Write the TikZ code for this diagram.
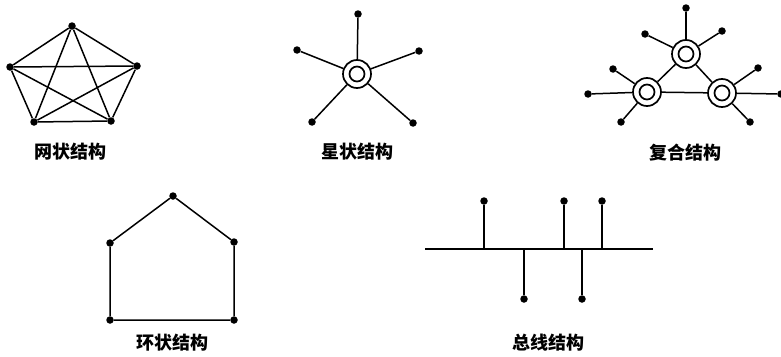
\documentclass[tikz,border=0pt]{standalone}
\usepackage{fontspec}
\newfontfamily\cjk{Noto Sans CJK SC}
\begin{document}
\begin{tikzpicture}[x=1pt,y=-1pt,
  dot/.style={circle,fill=black,inner sep=0pt,minimum size=7.5pt},
  hub/.style={circle,draw,line width=1.7pt,minimum size=28pt,inner sep=0pt,
    path picture={\draw[line width=1.7pt] (path picture bounding box.center) circle (7.5pt);}},
  lnk/.style={line width=1.5pt},
  lbl/.style={font=\cjk\bfseries\fontsize{18}{20}\selectfont}]
\useasboundingbox (0,0) rectangle (781,356);
% mesh
\node[dot] (m1) at (72,26) {};
\node[dot] (m2) at (10,67) {};
\node[dot] (m3) at (137,66) {};
\node[dot] (m4) at (34,122) {};
\node[dot] (m5) at (111,121) {};
\foreach \a/\b in {m1/m2,m1/m3,m1/m4,m1/m5,m2/m3,m2/m4,m2/m5,m3/m4,m3/m5,m4/m5}
  \draw[lnk] (\a) -- (\b);
\node[lbl] (lm) at (70,152) {网状结构};
% star
\node[hub] (s0) at (357,74) {};
\node[dot] (s1) at (358,14) {};
\node[dot] (s2) at (297,50) {};
\node[dot] (s3) at (419,51) {};
\node[dot] (s4) at (312,122) {};
\node[dot] (s5) at (413,123) {};
\foreach \b in {s1,s2,s3,s4,s5} \draw[lnk] (s0) -- (\b);
\node[lbl] (ls) at (357,152) {星状结构};
% compound
\node[hub] (ca) at (686,54) {};
\node[hub] (cb) at (647,92) {};
\node[hub] (cc) at (722,93) {};
\draw[lnk] (ca) -- (cb);
\draw[lnk] (ca) -- (cc);
\draw[lnk] (cb) -- (cc);
\node[dot] (a1) at (686,8) {};
\node[dot] (a2) at (645,34) {};
\node[dot] (a3) at (722,31) {};
\node[dot] (b1) at (613,69) {};
\node[dot] (b2) at (588,94) {};
\node[dot] (b3) at (621,122) {};
\node[dot] (c1) at (758,68) {};
\node[dot] (c2) at (781,94) {};
\node[dot] (c3) at (750,122) {};
\foreach \b in {a1,a2,a3} \draw[lnk] (ca) -- (\b);
\foreach \b in {b1,b2,b3} \draw[lnk] (cb) -- (\b);
\foreach \b in {c1,c2,c3} \draw[lnk] (cc) -- (\b);
\node[lbl] (lc) at (685,153) {复合结构};
% ring
\node[dot] (r1) at (173,196) {};
\node[dot] (r2) at (234,242) {};
\node[dot] (r3) at (234,320) {};
\node[dot] (r4) at (110,320) {};
\node[dot] (r5) at (110,243) {};
\draw[lnk] (r1) -- (r2) -- (r3) -- (r4) -- (r5) -- (r1);
\node[lbl] (lr) at (172,343) {环状结构};
% bus
\coordinate (bl) at (425,249);
\coordinate (br) at (653,249);
\draw[lnk] (bl) -- (br);
\foreach \n/\x/\y in {u1/484/201,u2/564/201,u3/602/201,d1/524/299,d2/582/299}{
  \node[dot] (\n) at (\x,\y) {};
  \coordinate (\n j) at (\x,249);
  \draw[lnk] (\n) -- (\n j);
}
\node[lbl] (lb) at (548,343) {总线结构};
\end{tikzpicture}
\end{document}
